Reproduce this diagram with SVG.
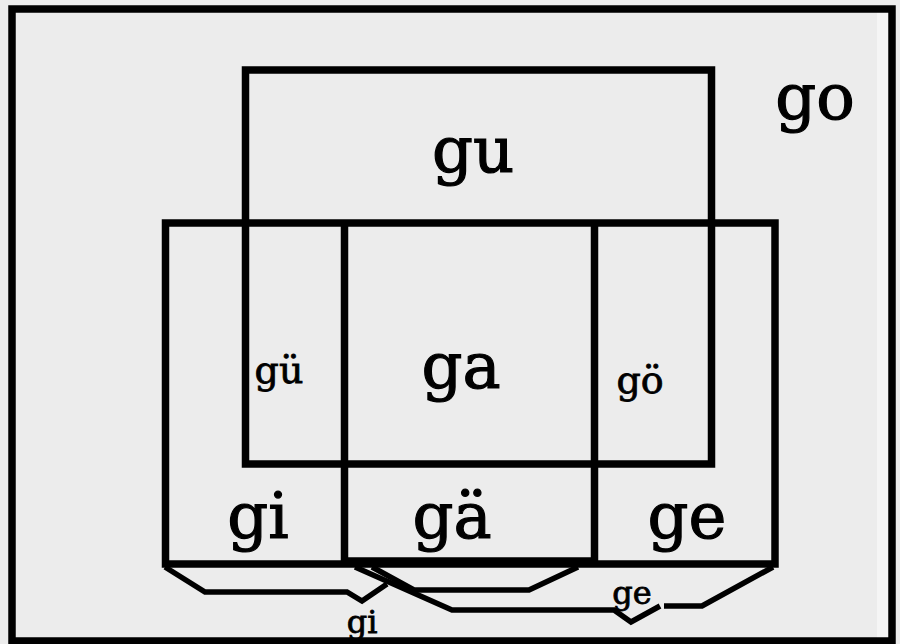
<svg xmlns="http://www.w3.org/2000/svg" width="900" height="644" viewBox="0 0 900 644">
<style>
.box{fill:none;stroke:#000;stroke-width:7.5}
.brace{fill:none;stroke:#000;stroke-width:5.5;stroke-linejoin:miter}
.t{font-family:"DejaVu Serif","Liberation Serif",serif;fill:#000;stroke:#000;text-anchor:middle}
.big{font-size:64px;stroke-width:1.2}
.mid{font-size:38px;stroke-width:0.8}
.sm{font-size:32px;stroke-width:0.8}
</style>
<rect width="900" height="644" fill="#ececec"/>
<rect x="877" y="12" width="12" height="626" fill="#f5f5f5"/>
<g id="frame">
<rect class="box" x="12" y="9" width="880" height="632" stroke-width="8"/>
<text class="t big" x="815" y="119">go</text>
</g>
<g id="gu">
<rect class="box" x="245.5" y="70" width="466" height="394"/>
<text class="t big" x="473" y="172">gu</text>
</g>
<g id="outer-row">
<rect class="box" x="165.5" y="223" width="609.5" height="341"/>
<line class="box" x1="344.5" y1="223" x2="344.5" y2="564"/>
<line class="box" x1="594.5" y1="223" x2="594.5" y2="564"/>
<line class="box" x1="344.5" y1="561" x2="594.5" y2="561" stroke-width="6"/>
</g>
<g id="gue"><text class="t mid" x="279" y="383">gü</text></g>
<g id="ga"><text class="t big" x="461" y="388">ga</text></g>
<g id="goe"><text class="t mid" x="640" y="393">gö</text></g>
<g id="gi"><text class="t big" x="258" y="538">gi</text></g>
<g id="gae"><text class="t big" x="452" y="538">gä</text></g>
<g id="ge"><text class="t big" x="687" y="538">ge</text></g>
<g id="connectors">
<polyline class="brace" points="165,567 205,592 347,592 362,601 387,584"/>
<polyline class="brace" points="355,567 452,610 614,610 631,622 660,606"/>
<polyline class="brace" points="664,606 702,606 773,567"/>
<polyline class="brace" points="372,567 414,590 529,590 578,567"/>
</g>
<g id="label-gi"><text class="t sm" x="362" y="633">gi</text></g>
<g id="label-ge"><text class="t sm" x="632" y="604">ge</text></g>
</svg>
